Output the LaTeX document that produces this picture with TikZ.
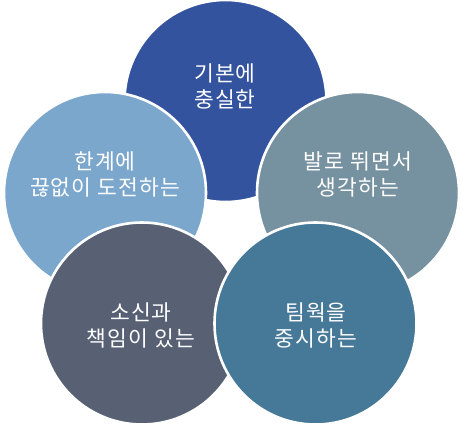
\documentclass[tikz,border=0pt]{standalone}
\usepackage{fontspec}
\newfontfamily\krfont[LetterSpace=5]{Noto Sans CJK KR}
\definecolor{ctop}{RGB}{51,83,158}
\definecolor{cleft}{RGB}{124,167,205}
\definecolor{cright}{RGB}{118,145,160}
\definecolor{cbl}{RGB}{88,97,116}
\definecolor{cbr}{RGB}{70,120,151}
\begin{document}
\begin{tikzpicture}[x=1pt,y=-1pt,
  petal/.style={circle, draw=white, line width=2.6pt, minimum size=202pt, inner sep=0pt},
  lbl/.style={text=white, font=\krfont\fontsize{21.5}{26}\selectfont, align=center, inner sep=0pt}]
\useasboundingbox (0,0) rectangle (463,431);
\node[petal, fill=ctop]   (top)   at (225.5,101) {};
\node[petal, fill=cleft]  (left)  at (105,193) {};
\node[petal, fill=cright] (right) at (358,193) {};
\node[petal, fill=cbl]    (bl)    at (142,323.5) {};
\node[petal, fill=cbr]    (br)    at (315.5,323.5) {};
\node[lbl] (ttop)   at (225,86)  {기본에\\충실한};
\node[lbl] (tleft)  at (105,174) {한계에\\끊없이 도전하는};
\node[lbl] (tright) at (358,174) {발로 뛰면서\\생각하는};
\node[lbl] (tbl)    at (141,325.5) {소신과\\책임이 있는};
\node[lbl] (tbr)    at (316,325.5) {팀웍을\\중시하는};
\end{tikzpicture}
\end{document}
